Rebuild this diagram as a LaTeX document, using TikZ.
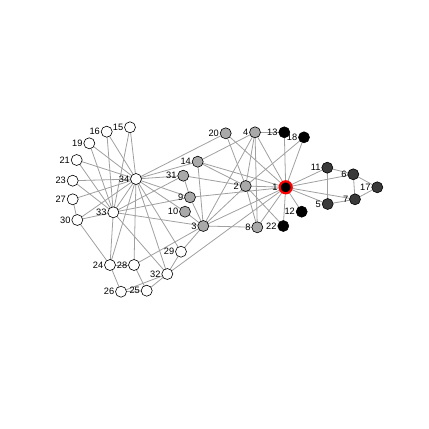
\documentclass[tikz,border=0pt]{standalone}
\usepackage{fontspec}
\setmainfont{Liberation Sans}
\usetikzlibrary{backgrounds}
\definecolor{edgegray}{HTML}{A0A0A0}
\definecolor{midgray}{HTML}{A9A9A9}
\definecolor{darkg}{HTML}{3A3A3A}
\begin{document}
\begin{tikzpicture}[x=1bp,y=-1bp,
  vbase/.style={circle,draw=black,line width=0.6bp,inner sep=0pt,minimum size=11bp},
  wn/.style={vbase,fill=white},
  gn/.style={vbase,fill=midgray},
  dn/.style={vbase,fill=darkg},
  bn/.style={vbase,fill=black},
  rn/.style={vbase,fill=black,draw=red,line width=2.2bp,minimum size=12bp},
  lbl/.style={font=\fontsize{9.3}{10}\selectfont,inner sep=0pt,anchor=east},
  edge/.style={draw=edgegray,line width=0.8bp}]
\useasboundingbox (0,0) rectangle (429,429);
\foreach \i/\x/\y/\s in {
  1/285.7/187.3/rn, 2/245.7/186/gn, 3/203.3/226/gn, 4/255/132.3/gn,
  5/327.7/204/dn, 6/353.3/174.3/dn, 7/355/199.3/dn, 8/257.3/227.3/gn,
  9/190/197.3/gn, 10/185/211.7/gn, 11/327.3/167.7/dn, 12/301.7/211.7/bn,
  13/284.3/132.3/bn, 14/197.7/161.7/gn, 15/130/127.3/wn, 16/106.7/131.7/wn,
  17/377.3/187.3/dn, 18/304/137.3/bn, 19/89.3/143.3/wn, 20/225.7/133.3/gn,
  21/76.7/160/wn, 22/283.3/226/bn, 23/72.7/180.7/wn, 24/110/265/wn,
  25/146.7/290.7/wn, 26/121/291.7/wn, 27/72.7/199.3/wn, 28/134/265/wn,
  29/181/251.7/wn, 30/77.3/220/wn, 31/183.3/175.7/gn, 32/167.3/274/wn,
  33/113.3/212.3/wn, 34/136/179/wn}{
  \node[\s] (n\i) at (\x,\y) {};
  \node[lbl] (l\i) at ([xshift=-0.8bp]n\i.west) {\i};
}
\begin{scope}[on background layer]
\foreach \a/\b in {
  1/2,1/3,1/4,1/5,1/6,1/7,1/8,1/9,1/11,1/12,1/13,1/14,1/18,1/20,1/22,1/32,
  2/3,2/4,2/8,2/14,2/18,2/20,2/22,2/31,
  3/4,3/8,3/9,3/10,3/14,3/28,3/29,3/33,
  4/8,4/13,4/14,
  5/7,5/11,6/7,6/11,6/17,7/17,
  9/31,9/33,9/34,10/34,14/34,
  15/33,15/34,16/33,16/34,19/33,19/34,20/34,21/33,21/34,23/33,23/34,
  24/26,24/28,24/30,24/33,24/34,
  25/26,25/28,25/32,26/32,27/30,27/34,28/34,29/32,29/34,
  30/33,30/34,31/33,31/34,32/33,32/34,33/34}{
  \draw[edge] (n\a.center) -- (n\b.center);
}
\end{scope}
\end{tikzpicture}
\end{document}
